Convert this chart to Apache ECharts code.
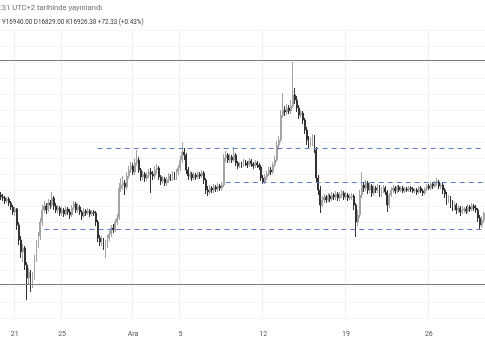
<!DOCTYPE html>
<html><head><meta charset="utf-8">
<script src="https://cdn.jsdelivr.net/npm/echarts@6.0.0/dist/echarts.min.js"></script>
<style>html,body{margin:0;padding:0;background:#fff}#c{width:485px;height:360px}</style>
</head><body><div id="c"></div>
<script>
// 4h candles starting 2022-11-19 20:00 (UTC+2 display)
const firstOpen = 17106;
const closes = [
17086,17076,17046,17066,17026,16986,16936,16966,16806,16656,
16536,16576,16406,16276,16336,16246,16296,16476,16606,16696,
16836,16956,16996,16956,17026,17006,17076,16996,16956,16976,
16926,16956,16916,16966,16936,16906,16976,17016,16956,16986,
16936,16896,16946,16926,16946,16916,16936,16926,16836,16676,
16636,16656,16596,16616,16676,16716,16776,16756,16836,16876,
17176,17206,17226,17186,17296,17356,17396,17336,17426,17456,
17356,17286,17316,17276,17306,17336,17316,17296,17356,17376,
17286,17246,17266,17226,17256,17296,17276,17316,17286,17336,
17376,17456,17536,17506,17356,17296,17316,17276,17306,17286,
17316,17296,17326,17256,17156,17136,17176,17156,17186,17166,
17196,17176,17206,17476,17506,17456,17486,17456,17506,17426,
17396,17416,17406,17436,17426,17406,17446,17416,17396,17426,
17406,17386,17276,17236,17286,17316,17356,17336,17406,17456,
17606,17656,17906,17956,17936,17976,17946,17996,18106,18056,
17976,17906,17926,17856,17756,17656,17606,17656,17676,17556,
17276,17156,17006,17056,17086,17056,17096,17066,17106,17086,
17116,17076,17106,17126,17086,17106,17076,17086,17096,17006,
16836,16906,17106,17206,17176,17226,17156,17196,17126,17176,
17156,17186,17116,17156,17176,17136,17006,17106,17156,17176,
17146,17186,17156,17176,17146,17166,17156,17176,17166,17146,
17156,17136,17176,17146,17126,17166,17196,17176,17216,17196,
17226,17236,17196,17206,17156,17116,17056,17076,17026,16986,
17006,16956,16976,16936,16956,16966,16946,16986,16966,16996,
16976,16956,16876,16806,16854.05,16926.38
];
const highs = [
17136,17116,17096,17086,17086,17046,17006,16986,16976,16836,
16696,16616,16596,16436,16376,16356,16336,16506,16656,16736,
16876,17006,17046,17026,17066,17056,17136,17096,17026,17006,
16996,16986,16976,16996,16986,16966,17006,17046,17036,17026,
17006,16956,16976,16966,16976,16966,16956,16956,16946,16856,
16706,16696,16676,16656,16706,16746,16806,16816,16866,16916,
17226,17276,17296,17256,17336,17396,17436,17426,17476,17556,
17486,17376,17346,17336,17336,17366,17376,17346,17396,17416,
17396,17306,17296,17286,17286,17326,17316,17346,17336,17366,
17406,17496,17636,17576,17526,17386,17346,17336,17336,17326,
17346,17336,17356,17346,17276,17196,17206,17196,17216,17206,
17226,17216,17236,17516,17546,17526,17516,17506,17586,17526,
17446,17436,17436,17466,17456,17446,17476,17466,17436,17456,
17446,17426,17406,17306,17316,17346,17386,17386,17436,17496,
17646,17696,17956,18126,17996,18016,18006,18056,18436,18176,
18096,18006,17956,17946,17876,17786,17696,17686,17716,17706,
17586,17306,17196,17096,17116,17106,17126,17116,17136,17126,
17146,17136,17136,17156,17146,17136,17126,17116,17126,17116,
17026,16956,17156,17336,17236,17256,17246,17226,17216,17206,
17196,17216,17206,17186,17206,17196,17156,17126,17186,17206,
17196,17206,17206,17196,17196,17186,17186,17196,17196,17186,
17176,17176,17196,17196,17166,17186,17216,17216,17236,17236,
17246,17276,17256,17226,17226,17176,17136,17106,17096,17056,
17036,17026,17006,16996,16996,16986,16996,17016,17006,17026,
17016,17006,16976,16906,16896,16940
];
const lows = [
17056,17046,17016,17026,16996,16956,16906,16896,16756,16606,
16476,16436,16356,16056,16206,16136,16176,16256,16436,16576,
16656,16796,16926,16916,16936,16966,16986,16956,16926,16926,
16896,16896,16886,16896,16906,16866,16886,16956,16926,16926,
16906,16856,16876,16896,16906,16886,16896,16896,16796,16636,
16596,16596,16556,16476,16576,16646,16686,16726,16736,16806,
16856,17136,17156,17106,17156,17266,17326,17306,17306,17396,
17326,17246,17256,17236,17246,17276,17126,17256,17266,17316,
17256,17206,17216,17196,17196,17226,17246,17246,17256,17256,
17306,17346,17426,17456,17316,17256,17266,17246,17256,17256,
17266,17266,17276,17216,17116,17096,17106,17126,17126,17136,
17136,17146,17146,17186,17436,17426,17426,17426,17436,17396,
17366,17376,17376,17386,17396,17376,17386,17386,17366,17376,
17376,17356,17246,17216,17216,17256,17296,17306,17316,17386,
17436,17556,17636,17876,17896,17906,17916,17916,17976,18016,
17936,17866,17876,17816,17716,17606,17576,17586,17596,17526,
17236,17106,16926,16986,17026,17026,17036,17036,17046,17056,
17056,17046,17046,17076,17056,17056,17046,17056,17056,16956,
16686,16796,16876,17076,17136,17146,17116,17126,17086,17096,
17126,17126,17086,17086,17126,17106,16936,16976,17086,17126,
17116,17126,17136,17136,17126,17126,17136,17136,17136,17126,
17126,17106,17116,17126,17096,17106,17146,17156,17156,17166,
17176,17196,17166,17166,17116,17076,17006,17026,16976,16946,
16956,16916,16926,16896,16916,16926,16916,16926,16936,16946,
16946,16926,16836,16756,16776,16829
];
const tickDates = ['2022-11-21 00:00','2022-11-25 00:00','2022-12-01 00:00','2022-12-05 00:00','2022-12-12 00:00','2022-12-19 00:00','2022-12-26 00:00'];
const tickLabels = ['21','25','Ara','5','12','19','26'];
const solidLevels = [18456, 16216];
const dashedFrom = ['2022-11-28 00:00','2022-12-08 20:00','2022-11-23 12:00'];
const dashedValues = [17576, 17236, 16766];
const headerText = ':31 UTC+2 tarihinde yayınlandı';
const ohlcText = 'Y16940.00 D16829.00 K16926.38 +72.33 (+0.43%)';

// categories (4h steps)
const pad = n => (n < 10 ? '0' : '') + n;
const t0 = Date.UTC(2022, 10, 19, 20, 0);
const cats = closes.map((_, i) => {
  const d = new Date(t0 + i * 4 * 3600e3);
  return d.getUTCFullYear() + '-' + pad(d.getUTCMonth() + 1) + '-' + pad(d.getUTCDate()) + ' ' + pad(d.getUTCHours()) + ':' + pad(d.getUTCMinutes());
});
const candles = closes.map((c, i) => [i === 0 ? firstOpen : closes[i - 1], c, lows[i], highs[i]]);
const lastCat = cats[cats.length - 1];

const markData = solidLevels.map(v => ({ yAxis: v, lineStyle: { color: '#808080', width: 1, type: 'solid' } }));
dashedValues.forEach((v, j) => {
  markData.push([
    { coord: [dashedFrom[j], v], lineStyle: { color: '#5f80c8', width: 1, type: [5, 4] } },
    { coord: [lastCat, v] }
  ]);
});

const isTick = (idx, val) => tickDates.indexOf(val) >= 0;
const chart = echarts.init(document.getElementById('c'), null, { renderer: 'canvas' });
chart.setOption({
  animation: false,
  backgroundColor: '#ffffff',
  grid: { left: -1, right: -1, top: 30, bottom: 42 },
  xAxis: {
    type: 'category', data: cats, boundaryGap: true,
    axisLine: { show: false }, axisTick: { show: false },
    axisLabel: {
      interval: isTick, margin: 13,
      formatter: v => tickLabels[tickDates.indexOf(v)],
      color: '#555', fontSize: 7, fontFamily: 'Roboto, sans-serif'
    },
    splitLine: { show: true, interval: isTick, lineStyle: { color: '#efefef', width: 1 } }
  },
  yAxis: {
    type: 'value', min: 15876, max: 18756, interval: 160, scale: true,
    axisLine: { show: false }, axisTick: { show: false }, axisLabel: { show: false },
    splitLine: { show: true, lineStyle: { color: '#f6f6f6', width: 1 } }
  },
  graphic: [
    { type: 'text', left: 0, top: 4, style: { text: headerText, fontSize: 7.6, fontFamily: 'Roboto, sans-serif', fill: '#6e6e6e' } },
    { type: 'text', left: 2, top: 19, style: { text: ohlcText, fontSize: 6.3, fontFamily: 'Roboto, sans-serif', fill: '#3a3a3a' } }
  ],
  series: [{
    type: 'candlestick',
    data: candles,
    barWidth: '70%',
    itemStyle: { color: '#a4a4a4', color0: '#333333', borderColor: '#a4a4a4', borderColor0: '#333333', borderWidth: 1 },
    markLine: { silent: true, symbol: 'none', label: { show: false }, animation: false, data: markData }
  }]
});
</script></body></html>
